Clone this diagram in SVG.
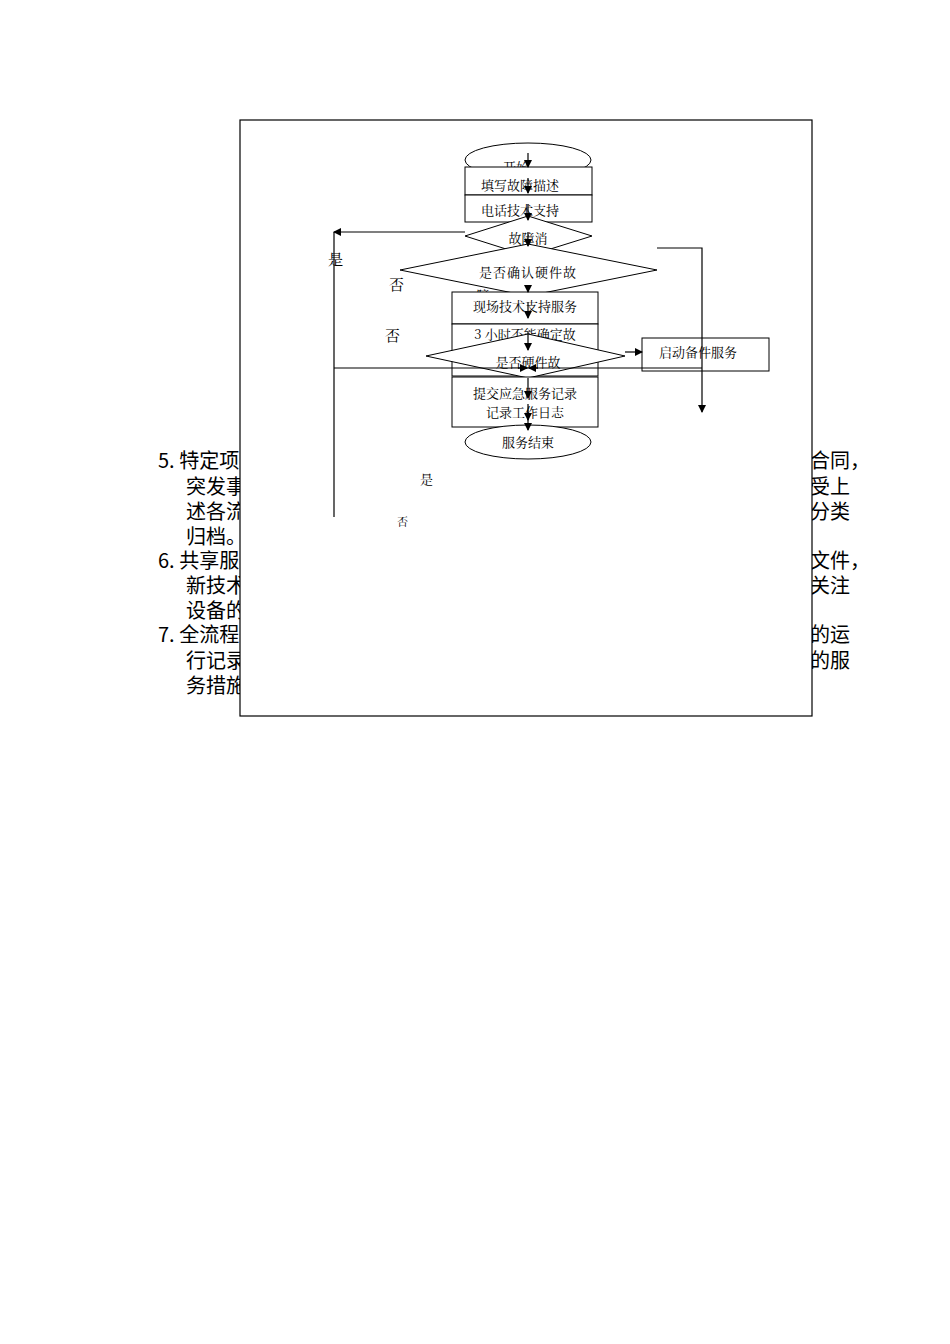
<svg xmlns="http://www.w3.org/2000/svg" width="950" height="1344" viewBox="0 0 950 1344">
<style>
.bg{font-family:"Noto Sans CJK SC","DejaVu Sans",sans-serif;font-size:20px;fill:#000}
.t{font-family:"Noto Serif CJK SC","Noto Sans CJK SC",serif;font-size:13px;fill:#000;text-anchor:middle}
.s{fill:#fff;stroke:#000;stroke-width:1}
.l{fill:none;stroke:#000;stroke-width:1.2}
</style>
<defs><marker id="a" markerWidth="8" markerHeight="8" refX="7" refY="4" orient="auto" markerUnits="userSpaceOnUse"><path d="M0,0L8,4L0,8z" fill="#000"/></marker></defs>
<rect width="950" height="1344" fill="#fff"/>
<g id="bgtext" class="bg">
<text x="158" y="468">5. 特定项</text><text x="186" y="494">突发事</text><text x="186" y="519">述各流</text><text x="186" y="544">归档。</text>
<text x="158" y="568">6. 共享服</text><text x="186" y="593">新技术</text><text x="186" y="618">设备的</text>
<text x="158" y="642">7. 全流程</text><text x="186" y="668">行记录</text><text x="186" y="693">务措施</text>
<text x="810" y="468">合同，</text><text x="810" y="494">受上</text><text x="810" y="519">分类</text>
<text x="810" y="568">文件，</text><text x="810" y="593">关注</text><text x="810" y="642">的运</text><text x="810" y="668">的服</text>
</g>
<rect id="frame" x="240" y="120" width="572" height="596" fill="#fff" stroke="#000" stroke-width="1.2"/>
<g id="start"><ellipse class="s" cx="528" cy="160" rx="63" ry="17"/><text class="t" x="516" y="172">开始</text></g>
<g id="n1"><rect class="s" x="465" y="167" width="127" height="28"/><text class="t" x="520" y="190">填写故障描述</text></g>
<g id="n2"><rect class="s" x="465" y="195" width="127" height="27"/><text class="t" x="520" y="215">电话技术支持</text></g>
<g id="d1"><polygon class="s" points="528,216 592,236 528,256 465,236"/><text class="t" x="528" y="243">故障消</text></g>
<g id="d2"><polygon class="s" points="528,244 657,270 528,296 400,270"/><text class="t" x="528" y="277" style="letter-spacing:1px">是否确认硬件故</text><text class="t" x="483" y="300" font-size="10">障</text></g>
<g id="n3"><rect class="s" x="452" y="292" width="146" height="32"/><text class="t" x="525" y="311">现场技术支持服务</text></g>
<g id="n4"><rect class="s" x="452" y="324" width="146" height="52"/><text class="t" x="525" y="339">3 小时不能确定故</text></g>
<g id="d3"><polygon class="s" points="528,334 625,356 528,378 426,356"/><text class="t" x="528" y="367">是否硬件故</text></g>
<g id="n5"><rect class="s" x="452" y="377" width="146" height="50"/><text class="t" x="525" y="398">提交应急服务记录</text><text class="t" x="525" y="417">记录工作日志</text></g>
<g id="end"><ellipse class="s" cx="528" cy="442" rx="63" ry="17"/><text class="t" x="528" y="447">服务结束</text></g>
<g id="n6"><rect class="s" x="642" y="338" width="127" height="33"/><text class="t" x="698" y="357">启动备件服务</text></g>
<g id="connectors" class="l">
<path marker-end="url(#a)" d="M528,153V167"/><path marker-end="url(#a)" d="M528,178V193"/><path marker-end="url(#a)" d="M528,204V220"/>
<path marker-end="url(#a)" d="M528,232V246"/><path marker-end="url(#a)" d="M528,286V292"/><path marker-end="url(#a)" d="M528,302V318"/>
<path marker-end="url(#a)" d="M528,332V350"/><path marker-end="url(#a)" d="M528,378V398"/><path marker-end="url(#a)" d="M528,404V420"/><path marker-end="url(#a)" d="M528,412V430"/>
<path marker-end="url(#a)" d="M465,232H334"/><path d="M334,232V517"/><path d="M334,368H702"/>
<path marker-end="url(#a)" d="M518,368H527"/><path marker-end="url(#a)" d="M538,368H529"/>
<path marker-end="url(#a)" d="M625,352H642"/><path marker-end="url(#a)" d="M657,248H702V412"/>
</g>
<g id="labels" font-family="Noto Serif CJK SC,Noto Sans CJK SC,serif" font-size="15">
<text x="328" y="265">是</text><text x="389" y="290">否</text><text x="385" y="341">否</text>
<text x="420" y="484" font-size="13">是</text><text x="397" y="526" font-size="11">否</text>
</g>
</svg>
